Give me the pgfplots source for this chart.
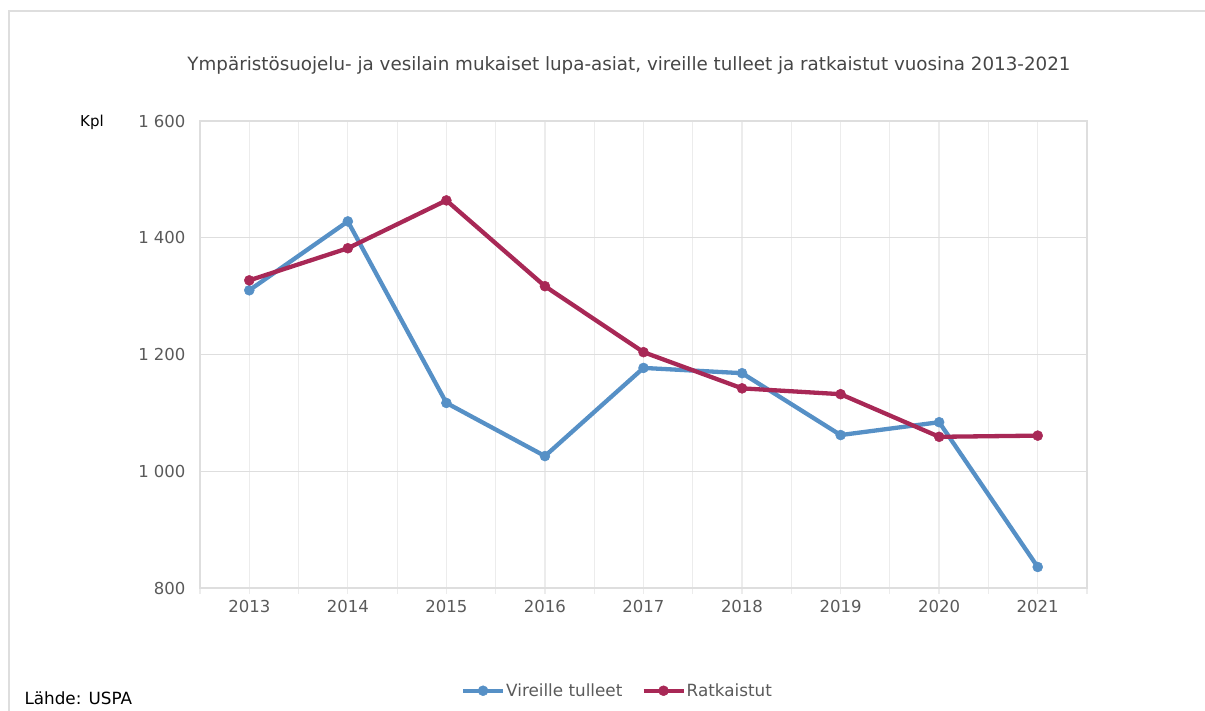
\documentclass[border=0pt]{standalone}
\usepackage{pgfplots}
\pgfplotsset{compat=1.18}
\usepackage{fontspec}
\setmainfont{DejaVu Sans}
\definecolor{cblue}{RGB}{86,144,198}
\definecolor{cred}{RGB}{168,40,86}
\definecolor{gridc}{RGB}{222,222,222}
\definecolor{vgrid}{RGB}{236,236,236}
\definecolor{txt}{RGB}{90,90,90}
\definecolor{ttl}{RGB}{70,70,70}
\begin{document}
\begin{tikzpicture}
\useasboundingbox (0,0) rectangle (1205bp,711bp);
\draw[gridc, line width=1.5bp] (9bp,0) -- (9bp,700bp) -- (1205bp,700bp);
\node[ttl, font=\fontsize{18.3bp}{22bp}\selectfont] at (629bp,646bp) {Ympäristösuojelu- ja vesilain mukaiset lupa-asiat, vireille tulleet ja ratkaistut vuosina 2013-2021};
\node[black, font=\fontsize{15bp}{18bp}\selectfont] at (92bp,589bp) {Kpl};
\node[black, anchor=west, font=\fontsize{16.8bp}{20bp}\selectfont] at (21bp,13bp) {Lähde: USPA};
\begin{axis}[
  at={(200bp,123bp)}, anchor=south west,
  scale only axis, width=887bp, height=467bp,
  xmin=2012.5, xmax=2021.5, ymin=800, ymax=1600,
  xtick={2013,...,2021},
  xticklabels={2013,2014,2015,2016,2017,2018,2019,2020,2021},
  minor xtick={2012.5,2013.5,...,2021.5},
  ytick={800,1000,1200,1400,1600},
  yticklabels={800,1 000,1 200,1 400,1 600},
  ymajorgrids, xmajorgrids, xminorgrids,
  major grid style={gridc, line width=1.2bp},
  minor grid style={vgrid, line width=1.2bp},
  x grid style={vgrid, line width=1.2bp},
  axis line style={gridc, line width=1.2bp},
  tick style={vgrid, line width=1.2bp},
  xtick pos=bottom, x tick style={vgrid}, tick align=outside,
  major tick length=6bp, minor tick length=6bp,
  ytick style={draw=none},
  ytick pos=left,
  ticklabel style={txt, font=\fontsize{16.5bp}{20bp}\selectfont},
  xticklabel style={yshift=-3bp},
  yticklabel style={xshift=-5bp},
  legend style={at={(0.47,-0.22)}, anchor=center, draw=none, fill=none,
    legend columns=2, font=\fontsize{16.8bp}{20bp}\selectfont, text=txt,
    nodes={inner xsep=1bp},
    /tikz/every even column/.append style={column sep=18bp}},
  legend cell align=left,
  legend image code/.code={\draw[mark repeat=2,mark phase=2] plot coordinates {(0bp,0bp) (20bp,0bp) (40bp,0bp)};},
  every axis plot/.append style={line width=4.3bp, mark=*, mark size=5bp, line join=round},
]
\addplot[cblue, mark options={fill=cblue, draw=cblue, line width=0.5bp}] coordinates {
(2013,1310) (2014,1428) (2015,1117) (2016,1026) (2017,1177) (2018,1168) (2019,1062) (2020,1084) (2021,836)};
\addlegendentry{Vireille tulleet}
\addplot[cred, mark options={fill=cred, draw=cred, line width=0.5bp}] coordinates {
(2013,1327) (2014,1382) (2015,1464) (2016,1317) (2017,1204) (2018,1142) (2019,1132) (2020,1059) (2021,1061)};
\addlegendentry{Ratkaistut}
\end{axis}
\end{tikzpicture}
\end{document}
